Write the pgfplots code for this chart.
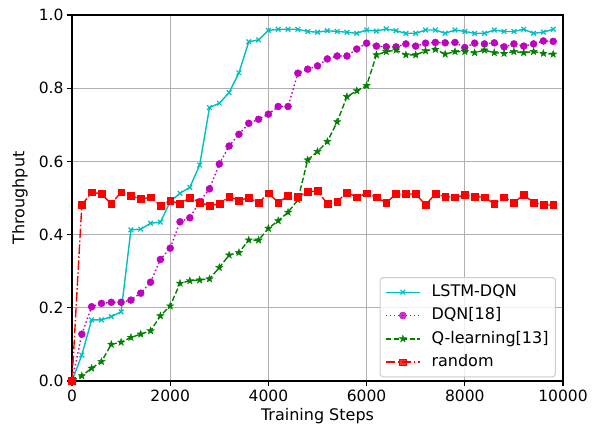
\documentclass[border=0pt]{standalone}
\usepackage{fontspec}
\setmainfont{DejaVu Sans}
\usepackage{pgfplots}
\usepackage{pgfplotstable}
\pgfplotsset{compat=1.18}
\definecolor{mc}{rgb}{0,0.75,0.75}
\definecolor{mm}{rgb}{0.75,0,0.75}
\definecolor{mg}{rgb}{0,0.5,0}
\definecolor{mr}{rgb}{1,0,0}
\definecolor{gridc}{HTML}{B0B0B0}
\pgfdeclareplotmark{fstar}{%
  \pgfpathmoveto{\pgfpointpolar{90}{\pgfplotmarksize}}%
  \pgfpathlineto{\pgfpointpolar{126}{0.4\pgfplotmarksize}}%
  \pgfpathlineto{\pgfpointpolar{162}{\pgfplotmarksize}}%
  \pgfpathlineto{\pgfpointpolar{198}{0.4\pgfplotmarksize}}%
  \pgfpathlineto{\pgfpointpolar{234}{\pgfplotmarksize}}%
  \pgfpathlineto{\pgfpointpolar{270}{0.4\pgfplotmarksize}}%
  \pgfpathlineto{\pgfpointpolar{306}{\pgfplotmarksize}}%
  \pgfpathlineto{\pgfpointpolar{342}{0.4\pgfplotmarksize}}%
  \pgfpathlineto{\pgfpointpolar{18}{\pgfplotmarksize}}%
  \pgfpathlineto{\pgfpointpolar{54}{0.4\pgfplotmarksize}}%
  \pgfpathclose
  \pgfusepathqfillstroke}
\pgfplotstableread{
x lstm dqn ql rnd
0 0 0 0 0
200 0.071 0.128 0.014 0.481
400 0.167 0.203 0.035 0.516
600 0.167 0.212 0.053 0.511
800 0.176 0.215 0.100 0.484
1000 0.189 0.215 0.106 0.516
1200 0.413 0.221 0.119 0.506
1400 0.415 0.240 0.128 0.497
1600 0.431 0.270 0.137 0.502
1800 0.434 0.332 0.178 0.479
2000 0.490 0.363 0.205 0.493
2200 0.513 0.435 0.267 0.484
2400 0.529 0.446 0.274 0.501
2600 0.590 0.490 0.276 0.488
2800 0.747 0.525 0.279 0.479
3000 0.759 0.593 0.310 0.484
3200 0.788 0.642 0.344 0.504
3400 0.842 0.674 0.351 0.493
3600 0.927 0.704 0.385 0.501
3800 0.932 0.715 0.385 0.487
4000 0.958 0.729 0.417 0.513
4200 0.961 0.750 0.438 0.488
4400 0.961 0.750 0.461 0.506
4600 0.961 0.841 0.495 0.504
4800 0.955 0.852 0.604 0.517
5000 0.953 0.861 0.627 0.519
5200 0.957 0.880 0.654 0.484
5400 0.955 0.888 0.708 0.490
5600 0.953 0.888 0.777 0.515
5800 0.950 0.907 0.793 0.502
6000 0.959 0.923 0.807 0.513
6200 0.956 0.915 0.891 0.502
6400 0.962 0.913 0.900 0.487
6600 0.957 0.913 0.904 0.511
6800 0.950 0.921 0.891 0.511
7000 0.950 0.915 0.891 0.511
7200 0.959 0.923 0.902 0.481
7400 0.959 0.925 0.906 0.511
7600 0.950 0.924 0.893 0.504
7800 0.959 0.925 0.900 0.502
8000 0.955 0.911 0.900 0.508
8200 0.950 0.923 0.897 0.504
8400 0.950 0.921 0.904 0.502
8600 0.959 0.924 0.897 0.484
8800 0.955 0.913 0.895 0.502
9000 0.955 0.921 0.900 0.488
9200 0.961 0.915 0.897 0.508
9400 0.950 0.921 0.900 0.488
9600 0.953 0.929 0.895 0.481
9800 0.961 0.928 0.893 0.481
}\data
\begin{document}
\begin{tikzpicture}
\begin{axis}[
  name=ax,
  scale only axis,
  width=491pt, height=366pt,
  xmin=0, xmax=10000, ymin=0, ymax=1,
  xtick={0,2000,4000,6000,8000,10000},
  ytick={0,0.2,0.4,0.6,0.8,1.0},
  scaled ticks=false,
  xticklabel style={/pgf/number format/set thousands separator={}},
  yticklabel style={/pgf/number format/.cd,fixed,fixed zerofill,precision=1},
  /pgf/number format/assume math mode=true,
  tick label style={font=\fontsize{15.5}{18}\selectfont},
  label style={font=\fontsize{16}{19}\selectfont},
  tick align=outside, tick pos=left,
  major tick length=5pt,
  every tick/.style={black, line width=1.2pt},
  axis line style={line width=1.2pt},
  grid=major,
  major grid style={gridc, line width=1.2pt},
  xlabel={Training Steps},
  ylabel={Throughput},
  xlabel style={at={(axis description cs:0.5,-0.109)}, anchor=base},
  ylabel style={at={(axis description cs:-0.106,0.5)}, anchor=center},
  legend style={at={(axis description cs:0.9857,0.284)}, anchor=north east,
    draw=black!20, line width=1pt, rounded corners=3pt, fill=white, fill opacity=0.8, draw opacity=1, text opacity=1,
    font=\fontsize{16}{19}\selectfont, inner xsep=5pt, inner ysep=3pt, row sep=0pt,
    nodes={text height=12pt, text depth=3.5pt, inner ysep=3.9pt, text opacity=1, text=black},
    /tikz/every odd column/.append style={column sep=9pt}},
  legend cell align=left,
  legend image code/.code={\draw[mark repeat=2,mark phase=2,#1] plot coordinates {(0pt,0pt) (17pt,0pt) (34pt,0pt)};},
]
\addplot[mc, line width=1.4pt, mark=x, mark size=3.3pt, mark options={solid, draw=mc, line width=1.2pt}] table[x=x,y=lstm] {\data};
\addlegendentry{LSTM-DQN}
\addplot[mm, line width=1.4pt, dash pattern=on 1.5pt off 2.5pt, mark=*, mark size=3.5pt, mark options={solid, draw=mm, fill=mm, line width=0.4pt}] table[x=x,y=dqn] {\data};
\addlegendentry{DQN[18]}
\addplot[mg, line width=1.4pt, dash pattern=on 5.5pt off 2.4pt, mark=fstar, mark size=3.8pt, mark options={solid, draw=mg, fill=mg, line width=0.4pt}] table[x=x,y=ql] {\data};
\addlegendentry{Q-learning[13]}
\addplot[mr, line width=1.4pt, dash pattern=on 9.6pt off 2.4pt on 1.5pt off 2.4pt, mark=square*, mark size=3.4pt, mark options={solid, draw=mr, fill=mr, line width=0.4pt}] table[x=x,y=rnd] {\data};
\addlegendentry{random}
\end{axis}
\pgfresetboundingbox
\path[use as bounding box] ([shift={(-72pt,-47pt)}]ax.south west) rectangle ([shift={(35pt,15pt)}]ax.north east);
\end{tikzpicture}
\end{document}
